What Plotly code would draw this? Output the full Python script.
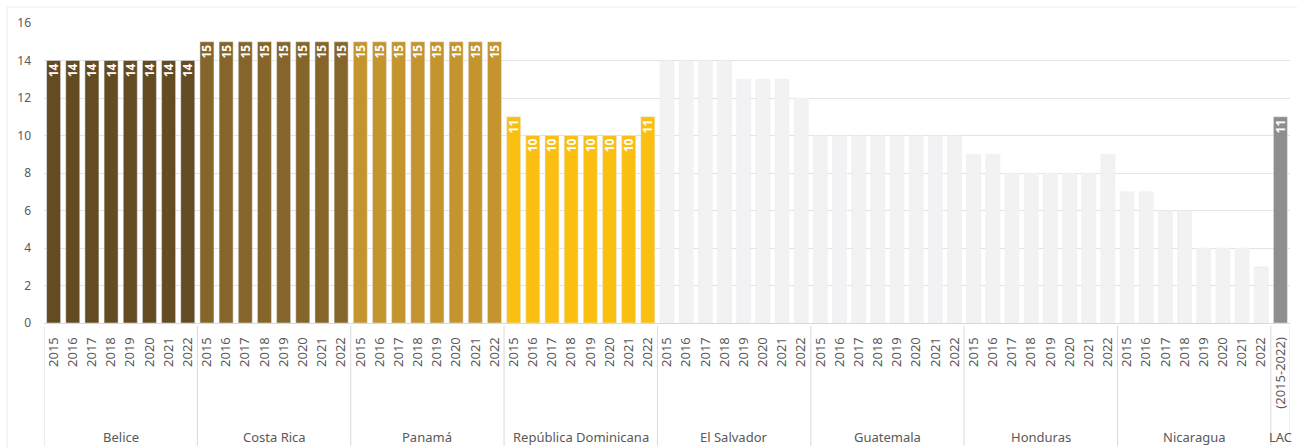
import plotly.graph_objects as go

groups = ["Belice", "Costa Rica", "Panamá", "República Dominicana",
          "El Salvador", "Guatemala", "Honduras", "Nicaragua"]
years = ["2015", "2016", "2017", "2018", "2019", "2020", "2021", "2022"]

belice = [14, 14, 14, 14, 14, 14, 14, 14]
costa_rica = [15, 15, 15, 15, 15, 15, 15, 15]
panama = [15, 15, 15, 15, 15, 15, 15, 15]
rep_dom = [11, 10, 10, 10, 10, 10, 10, 11]
el_salvador = [14, 14, 14, 14, 13, 13, 13, 12]
guatemala = [10, 10, 10, 10, 10, 10, 10, 10]
honduras = [9, 9, 8, 8, 8, 8, 8, 9]
nicaragua = [7, 7, 6, 6, 4, 4, 4, 3]

lac_label = "LAC"
lac_period = "(2015-2022)"
lac_value = [11]

series = [belice, costa_rica, panama, rep_dom, el_salvador, guatemala, honduras, nicaragua]
colors = ["#654b21", "#86652a", "#c4952f", "#fbbf12",
          "#f2f2f2", "#f2f2f2", "#f2f2f2", "#f2f2f2"]
labelled = [True, True, True, True, False, False, False, False]
lac_color = "#8e8e90"

FONT = "Noto Sans"
GRAY = "#595959"

fig = go.Figure()
n_years = len(years)
tickvals, ticktext = [], []
for gi, (g, vals) in enumerate(zip(groups, series)):
    xs = [gi * n_years + i for i in range(n_years)]
    tickvals += xs
    ticktext += years
    fig.add_trace(go.Bar(
        x=xs, y=vals, name=g, marker_color=colors[gi], width=0.73,
        text=[str(v) for v in vals] if labelled[gi] else None,
        textposition="inside", insidetextanchor="end", textangle=-90,
        constraintext="none",
        textfont=dict(family=FONT, size=12, color="white", weight="bold"),
        hoverinfo="x+y", showlegend=False,
    ))

lac_x = len(groups) * n_years
tickvals.append(lac_x)
ticktext.append(lac_period)
fig.add_trace(go.Bar(
    x=[lac_x], y=lac_value, name=lac_label, marker_color=lac_color, width=0.73,
    text=[str(v) for v in lac_value],
    textposition="inside", insidetextanchor="end", textangle=-90,
    constraintext="none",
    textfont=dict(family=FONT, size=12, color="white", weight="bold"),
    showlegend=False,
))

shapes = []
annotations = []
bounds = [gi * n_years - 0.5 for gi in range(len(groups) + 1)] + [lac_x + 0.5]
for b in bounds:
    shapes.append(dict(type="line", xref="x", yref="paper", x0=b, x1=b,
                       y0=-0.01, y1=-0.41, line=dict(color="#d9d9d9", width=1)))
for gi, g in enumerate(groups):
    annotations.append(dict(x=gi * n_years + (n_years - 1) / 2, y=-0.38, xref="x", yref="paper",
                            text=g, showarrow=False, yanchor="middle",
                            font=dict(family=FONT, size=13, color=GRAY)))
annotations.append(dict(x=lac_x, y=-0.38, xref="x", yref="paper", text=lac_label,
                        showarrow=False, yanchor="middle",
                        font=dict(family=FONT, size=13, color=GRAY)))

# outer chart border (top and left)
shapes.append(dict(type="line", xref="paper", yref="paper", x0=-0.0296, x1=1.01,
                   y0=1.053, y1=1.053, line=dict(color="#ececec", width=1)))
shapes.append(dict(type="line", xref="paper", yref="paper", x0=-0.0296, x1=-0.0296,
                   y0=1.053, y1=-0.45, line=dict(color="#ececec", width=1)))

fig.update_layout(
    width=1297, height=448,
    margin=dict(l=44, r=7, t=23, b=125, autoexpand=False),
    plot_bgcolor="white", paper_bgcolor="white",
    bargap=0.27,
    font=dict(family=FONT, color=GRAY),
    shapes=shapes, annotations=annotations,
    xaxis=dict(
        range=[-0.5, lac_x + 0.5], tickmode="array", tickvals=tickvals, ticktext=ticktext,
        tickangle=-90, tickfont=dict(family=FONT, size=13, color=GRAY),
        showgrid=False, zeroline=False, showline=True, linecolor="#d9d9d9", ticks="",
        ticklabelstandoff=8,
    ),
    yaxis=dict(
        range=[0, 16], dtick=2, showgrid=True, gridcolor="#e3e3e3", gridwidth=1,
        zeroline=False, showline=False, ticks="",
        tickfont=dict(family=FONT, size=12, color=GRAY), ticklabelstandoff=12,
    ),
)

fig.write_html("out.html", config={"displayModeBar": False},
               post_script="document.body.style.margin='0';document.body.style.overflow='hidden';")
